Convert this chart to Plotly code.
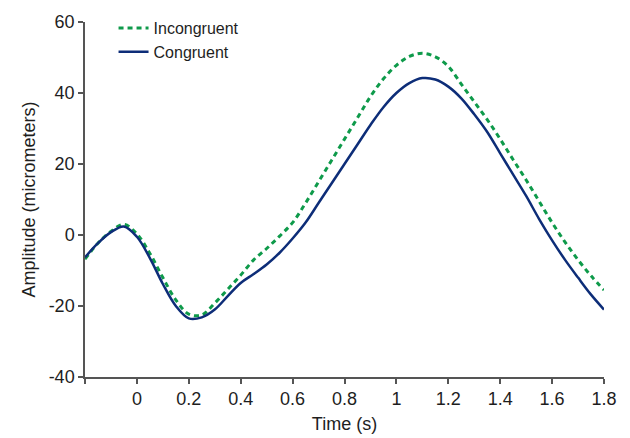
import plotly.graph_objects as go

time_s = [-0.20, -0.15, -0.10, -0.05, 0.00, 0.05, 0.10, 0.15, 0.20, 0.25,
          0.30, 0.35, 0.40, 0.45, 0.50, 0.55, 0.60, 0.65, 0.70, 0.75,
          0.80, 0.85, 0.90, 0.95, 1.00, 1.05, 1.10, 1.15, 1.20, 1.25,
          1.30, 1.35, 1.40, 1.45, 1.50, 1.55, 1.60, 1.65, 1.70, 1.75, 1.80]

incongruent = [-6.8, -2.3, 1.0, 3.0, 0.3, -5.2, -12.0, -18.3, -22.3, -22.5,
               -19.2, -15.3, -11.3, -7.0, -3.8, -0.3, 3.5, 9.0, 15.0, 21.0,
               27.0, 33.0, 39.0, 44.0, 47.8, 50.3, 51.2, 50.2, 47.5, 42.5,
               37.5, 32.5, 27.0, 21.2, 15.5, 9.5, 3.5, -2.0, -7.0, -11.5, -15.5]

congruent = [-6.3, -2.3, 0.8, 2.4, -0.5, -6.5, -13.8, -20.0, -23.5, -23.2,
             -21.0, -17.2, -13.5, -11.0, -8.3, -5.0, -1.0, 3.5, 9.0, 14.5,
             20.0, 25.5, 31.0, 36.0, 40.0, 42.8, 44.2, 43.8, 41.8, 38.5,
             34.0, 29.0, 23.0, 17.0, 11.0, 4.5, -1.5, -7.0, -12.0, -16.8, -21.0]

x_ticks = [-0.2, 0, 0.2, 0.4, 0.6, 0.8, 1.0, 1.2, 1.4, 1.6, 1.8]
x_ticktext = ["", "0", "0.2", "0.4", "0.6", "0.8", "1", "1.2", "1.4", "1.6", "1.8"]
y_ticks = [-40, -20, 0, 20, 40, 60]
y_ticktext = ["-40", "-20", "0", "20", "40", "60"]

GREEN = "#0e9a4a"
NAVY = "#0d2d78"
FONT = "Liberation Sans, Arial, sans-serif"
TXT = "#1e1e1e"

fig = go.Figure()
fig.add_trace(go.Scatter(x=time_s, y=incongruent, mode="lines", name="Incongruent",
                         line=dict(color=GREEN, width=3, dash="5px,4px", shape="spline")))
fig.add_trace(go.Scatter(x=time_s, y=congruent, mode="lines", name="Congruent",
                         line=dict(color=NAVY, width=2.5, shape="spline")))

axis_common = dict(showline=True, linecolor="#555555", linewidth=1.5, ticks="outside",
                   ticklen=5, tickwidth=1.5, tickcolor="#555555", showgrid=False,
                   zeroline=False, automargin=False,
                   tickfont=dict(family=FONT, size=18, color=TXT))

fig.update_xaxes(range=[-0.2, 1.8], tickvals=x_ticks, ticktext=x_ticktext,
                 title=dict(text="Time (s)", font=dict(family=FONT, size=18, color=TXT),
                            standoff=9),
                 **axis_common)
fig.update_yaxes(range=[-40, 60], tickvals=y_ticks, ticktext=y_ticktext,
                 title=dict(text="Amplitude (micrometers)",
                            font=dict(family=FONT, size=18, color=TXT), standoff=8),
                 **axis_common)

# page body has an 8px margin, so the figure is sized 8px smaller
fig.update_layout(
    width=622, height=430,
    margin=dict(l=77, r=26, t=14, b=61, autoexpand=False),
    plot_bgcolor="white", paper_bgcolor="white",
    font=dict(family=FONT, size=18, color=TXT),
    legend=dict(x=0.055, y=1.031, xanchor="left", yanchor="top",
                bgcolor="rgba(0,0,0,0)", itemwidth=30,
                font=dict(family=FONT, size=16, color=TXT),
                tracegroupgap=0),
)

fig.write_html("out.html")
